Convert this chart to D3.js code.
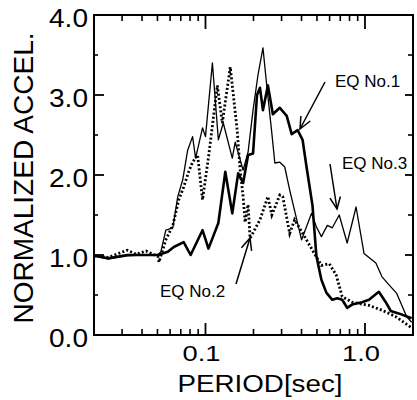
<!DOCTYPE html>
<html>
<head>
<meta charset="utf-8">
<script src="https://cdn.jsdelivr.net/npm/d3@7"></script>
<style>
  body { margin: 0; background: #fff; }
  text { font-family: "Liberation Sans", Arial, sans-serif; fill: #000; }
</style>
</head>
<body>
<svg width="417" height="400"></svg>
<script>
// period [sec] and normalized acceleration
var eq1Period = [0.02, 0.0246, 0.0323, 0.0395, 0.0503, 0.0581, 0.0633, 0.073, 0.0807, 0.0958, 0.1044, 0.1204, 0.1331, 0.1472, 0.1603, 0.1722, 0.185, 0.1987, 0.2104, 0.2196, 0.2292, 0.2462, 0.2645, 0.2924, 0.3231, 0.3471, 0.3782, 0.4062, 0.4301, 0.4686, 0.4963, 0.533, 0.5726, 0.6237, 0.67, 0.7197, 0.7731, 0.83, 0.958, 1.059, 1.222, 1.35, 1.451, 1.626, 1.96]
var eq1Value  = [0.99, 0.96, 1.0, 1.0, 1.0, 1.04, 1.1, 1.16, 1.0, 1.31, 1.08, 1.4, 2.04, 1.52, 2.02, 1.9, 2.25, 2.27, 3.0, 3.09, 2.81, 3.12, 2.76, 2.84, 2.74, 2.51, 2.56, 2.44, 2.1, 1.62, 0.98, 0.69, 0.53, 0.44, 0.46, 0.44, 0.34, 0.38, 0.41, 0.44, 0.54, 0.41, 0.3, 0.27, 0.21]

var eq2Period = [0.02, 0.0246, 0.0323, 0.0367, 0.0424, 0.0503, 0.0511, 0.0564, 0.0624, 0.068, 0.073, 0.0784, 0.083, 0.0892, 0.0958, 0.1044, 0.1187, 0.1275, 0.143, 0.158, 0.165, 0.1722, 0.1772, 0.185, 0.1904, 0.2196, 0.2462, 0.2607, 0.2924, 0.3052, 0.3373, 0.3623, 0.418, 0.4686, 0.533, 0.5976, 0.66, 0.7197, 0.83, 1.059, 1.276, 1.558, 1.96]
var eq2Value  = [0.99, 0.97, 1.06, 1.01, 1.05, 0.98, 0.91, 1.19, 1.37, 1.69, 1.85, 2.04, 2.16, 2.25, 1.69, 2.22, 3.12, 2.65, 3.35, 2.56, 2.06, 1.73, 1.41, 1.63, 1.21, 1.44, 1.73, 1.5, 1.75, 1.73, 1.27, 1.44, 1.23, 1.06, 0.87, 0.89, 0.75, 0.48, 0.41, 0.37, 0.31, 0.23, 0.09]

var eq3Period = [0.02, 0.0246, 0.0323, 0.0395, 0.0503, 0.0525, 0.0564, 0.0624, 0.067, 0.072, 0.0773, 0.083, 0.0867, 0.0958, 0.1, 0.1105, 0.1204, 0.1293, 0.1472, 0.1536, 0.1722, 0.185, 0.1987, 0.2134, 0.2292, 0.2427, 0.2607, 0.2722, 0.2924, 0.314, 0.3373, 0.4004, 0.4619, 0.4963, 0.533, 0.5808, 0.6237, 0.6895, 0.7731, 0.879, 0.986, 1.17, 1.276, 1.41, 1.581, 1.824, 1.96]
var eq3Value  = [0.99, 0.95, 0.99, 1.0, 1.0, 1.04, 1.31, 1.34, 1.73, 1.94, 2.31, 2.48, 2.21, 2.59, 2.48, 3.4, 2.44, 2.65, 2.21, 2.41, 2.06, 2.29, 2.81, 3.25, 3.59, 3.1, 2.52, 2.15, 2.16, 2.1, 1.81, 1.19, 1.52, 1.35, 1.23, 1.37, 1.34, 1.5, 1.15, 1.6, 1.02, 0.9, 0.73, 0.63, 0.52, 0.23, 0.16]

var yTicks = [0, 1, 2, 3, 4]
var yTickLabels = ["0.0", "1.0", "2.0", "3.0", "4.0"]
var xTicks = [0.1, 1]
var xTickLabels = ["0.1", "1.0"]

var margin = {left: 94, right: 4, top: 15, bottom: 65}
var W = 417, H = 400
var svg = d3.select("svg")

var x = d3.scaleLog().domain([0.02, 2.0]).range([margin.left, W - margin.right])
var y = d3.scaleLinear().domain([0, 4]).range([H - margin.bottom, margin.top])

var x0 = x.range()[0], x1 = x.range()[1], y0 = y.range()[0], y1 = y.range()[1]

// minor log ticks
var minorX = []
;[0.01, 0.1, 1].forEach(function(dec){
  for (var k = 2; k <= 9; k++) {
    var v = dec * k
    if (v > 0.02 && v < 2.0 && xTicks.indexOf(+v.toFixed(3)) < 0) minorX.push(v)
  }
})

var ax = svg.append("g").attr("stroke", "#000").attr("fill", "none")

// bottom and top ticks (inward)
minorX.forEach(function(v){
  ax.append("line").attr("x1", x(v)).attr("x2", x(v)).attr("y1", y0).attr("y2", y0 - 6).attr("stroke-width", 1.6)
  ax.append("line").attr("x1", x(v)).attr("x2", x(v)).attr("y1", y1).attr("y2", y1 + 6).attr("stroke-width", 1.6)
})
xTicks.forEach(function(v){
  ax.append("line").attr("x1", x(v)).attr("x2", x(v)).attr("y1", y0).attr("y2", y0 - 12).attr("stroke-width", 1.8)
  ax.append("line").attr("x1", x(v)).attr("x2", x(v)).attr("y1", y1).attr("y2", y1 + 14).attr("stroke-width", 1.8)
})

// left and right ticks
d3.range(0.5, 4, 1).forEach(function(v){
  ax.append("line").attr("x1", x0).attr("x2", x0 + 4).attr("y1", y(v)).attr("y2", y(v)).attr("stroke-width", 1.6)
  ax.append("line").attr("x1", x1).attr("x2", x1 - 5).attr("y1", y(v)).attr("y2", y(v)).attr("stroke-width", 1.6)
})
yTicks.forEach(function(v){
  ax.append("line").attr("x1", x0).attr("x2", x0 + 10).attr("y1", y(v)).attr("y2", y(v)).attr("stroke-width", 1.8)
  ax.append("line").attr("x1", x1).attr("x2", x1 - 8).attr("y1", y(v)).attr("y2", y(v)).attr("stroke-width", 1.8)
})

ax.append("rect").attr("x", x0).attr("y", y1).attr("width", x1 - x0).attr("height", y0 - y1)
  .attr("stroke-width", 2)

// tick labels
yTicks.forEach(function(v, i){
  svg.append("text").attr("x", x0 - 6).attr("y", y(v) + 12)
    .attr("text-anchor", "end").attr("font-size", 25)
    .attr("textLength", 39).attr("lengthAdjust", "spacingAndGlyphs")
    .text(yTickLabels[i])
})
xTicks.forEach(function(v, i){
  svg.append("text").attr("x", x(v) - 4).attr("y", y0 + 26)
    .attr("text-anchor", "middle").attr("font-size", 22)
    .attr("textLength", 38).attr("lengthAdjust", "spacingAndGlyphs")
    .text(xTickLabels[i])
})

svg.append("text").attr("x", 260).attr("y", 392).attr("text-anchor", "middle")
  .attr("font-size", 23).attr("textLength", 165).attr("lengthAdjust", "spacingAndGlyphs")
  .text("PERIOD[sec]")

svg.append("text").attr("transform", "translate(33,178) rotate(-90)")
  .attr("text-anchor", "middle").attr("font-size", 27)
  .attr("textLength", 291).attr("lengthAdjust", "spacingAndGlyphs")
  .text("NORMALIZED ACCEL.")

// curves
var line = d3.line().x(function(d){ return x(d[0]) }).y(function(d){ return y(d[1]) })
var plot = svg.append("g").attr("fill", "none").attr("stroke", "#000").attr("stroke-linejoin", "round")

plot.append("path").datum(d3.zip(eq3Period, eq3Value)).attr("d", line).attr("stroke-width", 1.3)
plot.append("path").datum(d3.zip(eq2Period, eq2Value)).attr("d", line)
  .attr("stroke-width", 2.8).attr("stroke-dasharray", "2,2.2").attr("stroke-linejoin", "miter")
plot.append("path").datum(d3.zip(eq1Period, eq1Value)).attr("d", line).attr("stroke-width", 2.6)

// annotations with open arrowheads
function arrow(xs, ys, xe, ye){
  var g = svg.append("g").attr("stroke", "#000").attr("stroke-width", 1.5).attr("fill", "none")
  g.append("line").attr("x1", xs).attr("y1", ys).attr("x2", xe).attr("y2", ye)
  var a = Math.atan2(ye - ys, xe - xs), L = 13, s = 0.42
  g.append("path").attr("d",
    "M" + (xe - L * Math.cos(a - s)) + "," + (ye - L * Math.sin(a - s)) +
    "L" + xe + "," + ye +
    "L" + (xe - L * Math.cos(a + s)) + "," + (ye - L * Math.sin(a + s)))
}

svg.append("text").attr("x", 335).attr("y", 87).attr("font-size", 17).text("EQ No.1")
arrow(325, 82, 300, 129)
svg.append("text").attr("x", 342).attr("y", 169).attr("font-size", 17).text("EQ No.3")
arrow(330, 164, 337, 209)
svg.append("text").attr("x", 160).attr("y", 297).attr("font-size", 17).text("EQ No.2")
arrow(236, 284, 250, 238)
</script>
</body>
</html>
